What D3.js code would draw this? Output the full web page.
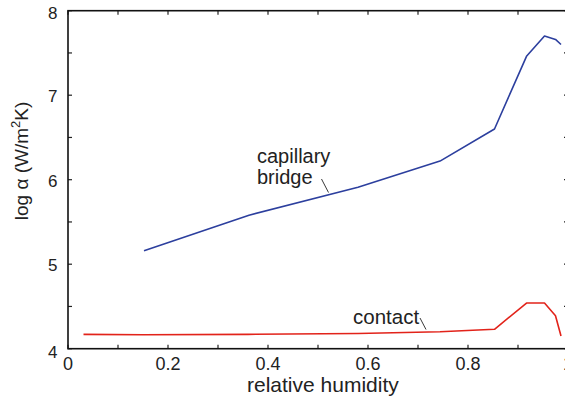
<!DOCTYPE html>
<html>
<head>
<meta charset="utf-8">
<script src="https://cdn.jsdelivr.net/npm/d3@7/dist/d3.min.js"></script>
<style>
  html, body { margin: 0; padding: 0; background: #fff; overflow: hidden; }
  text { font-family: "Liberation Sans", Arial, sans-serif; fill: #222; }
</style>
</head>
<body>
<svg id="chart" width="565" height="407"></svg>
<script>
// Relative humidity samples and log heat-transfer coefficient for each mechanism
const bridgeRH    = [0.152, 0.362, 0.58, 0.744, 0.853, 0.917, 0.953, 0.975, 0.986];
const bridgeLogA  = [5.16, 5.58, 5.91, 6.22, 6.60, 7.46, 7.70, 7.66, 7.60];
const contactRH   = [0.031, 0.15, 0.36, 0.58, 0.744, 0.853, 0.917, 0.953, 0.975, 0.986];
const contactLogA = [4.17, 4.165, 4.17, 4.18, 4.20, 4.23, 4.54, 4.54, 4.39, 4.15];

const xMajor = [0, 0.2, 0.4, 0.6, 0.8, 1];
const xMinor = d3.range(0, 1.0001, 0.1);
const yMajor = [4, 5, 6, 7, 8];
const yMinor = d3.range(4, 8.0001, 0.5);

const svg = d3.select("#chart");
const plotL = 68, plotR = 568, plotT = 10.7, plotB = 348.7;

const x = d3.scaleLinear().domain([0, 1]).range([plotL, plotR]);
const y = d3.scaleLinear().domain([4, 8]).range([plotB, plotT]);

const tickLen = 4;
const fmt = d => d === 0 || d === 1 ? String(d) : d3.format(".1f")(d);

// inward minor/major ticks on all four sides
const ax = svg.append("g").attr("stroke", "#222").attr("stroke-width", 1.2);
xMinor.forEach(v => {
  ax.append("line").attr("x1", x(v)).attr("x2", x(v)).attr("y1", plotB).attr("y2", plotB - tickLen);
  ax.append("line").attr("x1", x(v)).attr("x2", x(v)).attr("y1", plotT).attr("y2", plotT + tickLen);
});
yMinor.forEach(v => {
  ax.append("line").attr("y1", y(v)).attr("y2", y(v)).attr("x1", plotL).attr("x2", plotL + tickLen);
  ax.append("line").attr("y1", y(v)).attr("y2", y(v)).attr("x1", plotR).attr("x2", plotR - tickLen);
});

// frame
svg.append("rect")
  .attr("x", plotL).attr("y", plotT)
  .attr("width", plotR - plotL).attr("height", plotB - plotT)
  .attr("fill", "none").attr("stroke", "#111").attr("stroke-width", 1.6);

// tick labels
svg.append("g").selectAll("text").data(xMajor).join("text")
  .attr("x", d => x(d)).attr("y", 369.5)
  .attr("text-anchor", "middle").attr("font-size", 18)
  .text(fmt);
svg.append("g").selectAll("text").data(yMajor).join("text")
  .attr("x", 57.5).attr("y", d => y(d) + 7 + (d === 4 ? 2 : 0) + (d === 8 ? 1.5 : 0))
  .attr("text-anchor", "end").attr("font-size", 17)
  .text(d => d);

// axis titles
svg.append("text")
  .attr("x", 247).attr("y", 391.5)
  .attr("font-size", 21)
  .text("relative humidity");

const yTitle = svg.append("text")
  .attr("transform", "translate(28,161) rotate(-90)")
  .attr("text-anchor", "middle").attr("font-size", 19);
yTitle.append("tspan").text("log \u03b1 (W/m");
yTitle.append("tspan").attr("font-size", 13).attr("dy", -8).text("2");
yTitle.append("tspan").attr("dy", 8).text("K)");

// series
const line = d3.line().x(d => x(d[0])).y(d => y(d[1]));
svg.append("path")
  .datum(d3.zip(bridgeRH, bridgeLogA))
  .attr("d", line).attr("fill", "none")
  .attr("stroke", "#2c3f9e").attr("stroke-width", 1.6).attr("stroke-linejoin", "round");
svg.append("path")
  .datum(d3.zip(contactRH, contactLogA))
  .attr("d", line).attr("fill", "none")
  .attr("stroke", "#e2231a").attr("stroke-width", 1.6).attr("stroke-linejoin", "round");

// annotations with leader lines
svg.append("text").attr("x", 257).attr("y", 163).attr("font-size", 20).text("capillary");
svg.append("text").attr("x", 257).attr("y", 184).attr("font-size", 20).text("bridge");
svg.append("line").attr("x1", 321.5).attr("y1", 179).attr("x2", 328.5).attr("y2", 192.5)
  .attr("stroke", "#222").attr("stroke-width", 0.9);

svg.append("text").attr("x", 353).attr("y", 323.5).attr("font-size", 20.5).text("contact");
svg.append("line").attr("x1", 420).attr("y1", 318).attr("x2", 426).attr("y2", 329.5)
  .attr("stroke", "#222").attr("stroke-width", 0.9);
</script>
</body>
</html>
